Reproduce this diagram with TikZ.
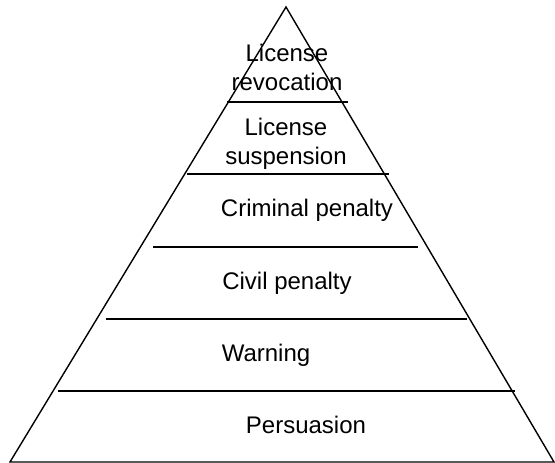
\documentclass[tikz,border=0pt]{standalone}
\usepackage{fontspec}
\setmainfont{Liberation Sans}
\begin{document}
\begin{tikzpicture}[
      x=1pt, y=-1pt,
      rung/.style={line width=1.4pt},
      tier/.style={font=\fontsize{24}{29}\selectfont, align=center, inner sep=0pt, anchor=base}
    ]
    \useasboundingbox (0,0) rectangle (555,463);
    \coordinate (apex) at (286,7);
    \coordinate (baseL) at (10,462);
    \coordinate (baseR) at (554,462);
    \draw[rung] (apex) -- (baseL) -- (baseR) -- cycle;
    \foreach \y/\xa/\xb in {102/227/348, 174/187/389, 247/153/418, 319/106/467, 391/58/515}
      \draw[rung] (\xa,\y) -- (\xb,\y);
    \node[tier] (revoke) at (287,90) {License\\revocation};
    \node[tier] (suspend) at (286,164) {License\\suspension};
    \node[tier] (criminal) at (307,216) {Criminal penalty};
    \node[tier] (civil) at (287,289) {Civil penalty};
    \node[tier] (warning) at (266,361) {Warning};
    \node[tier] (persuade) at (306,433) {Persuasion};
  \end{tikzpicture}
\end{document}
